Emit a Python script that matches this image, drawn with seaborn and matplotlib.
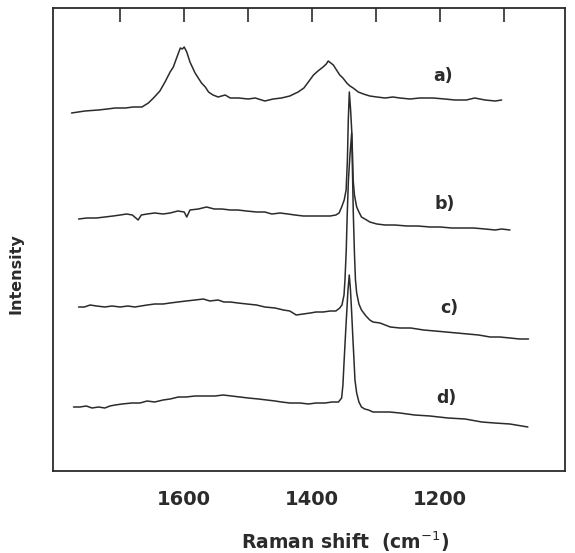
import numpy as np
import pandas as pd
import matplotlib
matplotlib.use("Agg")
import matplotlib.pyplot as plt
import seaborn as sns

# ---- data (Raman shift in cm-1, intensity in arbitrary units) ----
shift_a = [1776, 1755, 1734, 1720, 1708, 1692, 1680, 1666, 1656, 1648, 1638, 1630, 1622, 1617, 1609,
           1606, 1603, 1600, 1596, 1591, 1583, 1578, 1573, 1567, 1562, 1555, 1547, 1536, 1528, 1515,
           1500, 1489, 1474, 1461, 1448, 1435, 1422, 1413, 1406, 1398, 1391, 1383, 1378, 1375, 1371,
           1367, 1362, 1357, 1352, 1346, 1341, 1336, 1328, 1320, 1310, 1299, 1286, 1274, 1263, 1247,
           1232, 1211, 1193, 1177, 1159, 1146, 1130, 1114, 1104]
int_a = [355, 357, 358, 359, 360, 360, 361, 361, 365, 370, 377, 386, 396, 401, 415,
         420, 419, 421, 416, 406, 395, 390, 385, 381, 376, 373, 371, 373, 370, 370,
         369, 370, 367, 369, 370, 372, 376, 380, 386, 393, 397, 401, 404, 407, 405,
         403, 398, 393, 390, 385, 382, 380, 376, 374, 372, 371, 370, 371, 370, 369,
         370, 370, 369, 368, 368, 370, 368, 367, 368]

shift_b = [1765, 1752, 1737, 1724, 1711, 1700, 1690, 1681, 1672, 1667, 1658, 1646, 1633, 1622, 1610,
           1600, 1596, 1591, 1578, 1565, 1553, 1541, 1528, 1516, 1503, 1487, 1474, 1463, 1450, 1438,
           1427, 1414, 1400, 1388, 1372, 1363, 1358, 1354, 1350, 1347, 1345, 1343.6, 1342, 1340, 1338.3,
           1337, 1336, 1334, 1330.5, 1327, 1323, 1315, 1310, 1299, 1286, 1271, 1252, 1235, 1216, 1200,
           1182, 1164, 1148, 1130, 1114, 1104, 1091]
int_b = [249, 250, 250, 251, 252, 253, 254, 253, 248, 253, 254, 255, 254, 255, 257,
         256, 251, 258, 259, 261, 259, 259, 258, 258, 257, 256, 256, 254, 255, 254,
         253, 252, 252, 252, 252, 253, 255, 261, 268, 278, 308, 348, 376, 358, 338,
         313, 288, 273, 261, 256, 251, 248, 246, 244, 243, 243, 242, 242, 241, 241,
         240, 240, 240, 239, 238, 239, 238]

shift_c = [1765, 1756, 1747, 1737, 1724, 1713, 1700, 1688, 1677, 1658, 1646, 1633, 1622, 1610, 1597,
           1583, 1570, 1560, 1547, 1538, 1528, 1516, 1502, 1487, 1474, 1458, 1445, 1435, 1425, 1414,
           1403, 1394, 1383, 1372, 1363, 1357, 1353.5, 1350.3, 1348.8, 1346.8, 1345.2, 1343.4, 1341, 1338.3, 1337.1,
           1335.8, 1333.9, 1332.4, 1330.5, 1327, 1323, 1316, 1310, 1305, 1294, 1278, 1263, 1246, 1226, 1208,
           1191, 1174, 1157, 1140, 1122, 1107, 1091, 1076, 1062]
int_c = [161, 161, 163, 162, 161, 162, 161, 162, 161, 163, 164, 164, 165, 166, 167,
         168, 169, 167, 168, 166, 166, 165, 164, 163, 161, 160, 158, 157, 153, 154,
         155, 156, 156, 157, 157, 160, 163, 173, 188, 218, 255, 288, 313, 335, 298,
         255, 213, 188, 175, 164, 158, 152, 148, 146, 145, 141, 140, 140, 138, 137,
         136, 135, 134, 133, 131, 131, 130, 129, 129]

shift_d = [1773, 1763, 1753, 1744, 1734, 1724, 1716, 1708, 1697, 1682, 1669, 1658, 1646, 1633, 1622,
           1609, 1597, 1583, 1567, 1552, 1539, 1526, 1513, 1500, 1484, 1471, 1458, 1448, 1435, 1419,
           1406, 1394, 1380, 1369, 1359, 1354, 1352, 1350.3, 1348, 1346.1, 1344.1, 1342.1, 1340.2, 1338.3, 1336.3,
           1334.7, 1333.2, 1330.5, 1327, 1323, 1318, 1312, 1305, 1292, 1279, 1263, 1240, 1216, 1188, 1161,
           1135, 1115, 1091, 1063]
int_d = [61, 61, 62, 60, 61, 60, 62, 63, 64, 65, 65, 67, 66, 68, 69,
         71, 71, 72, 72, 72, 73, 72, 71, 70, 69, 68, 67, 66, 65, 65,
         64, 65, 65, 66, 66, 70, 83, 105, 133, 155, 178, 193, 178, 155, 128,
         108, 88, 75, 66, 61, 59, 58, 56, 56, 56, 55, 53, 52, 50, 49,
         46, 45, 44, 41]

sample_labels = ["a)", "b)", "c)", "d)"]
label_shift = [1196, 1193, 1186, 1191]
label_int = [392, 264, 160, 70]

tick_positions = [1700, 1600, 1500, 1400, 1300, 1200, 1100]
tick_labels = ["", "1600", "", "1400", "", "1200", ""]

# ---- long-form table ----
frames = []
for name, xs, ys in zip(sample_labels, [shift_a, shift_b, shift_c, shift_d],
                        [int_a, int_b, int_c, int_d]):
    frames.append(pd.DataFrame({"shift": xs, "intensity": ys, "sample": name}))
df = pd.concat(frames, ignore_index=True)

sns.set_style("white")
plt.rcParams["font.family"] = ["DejaVu Sans"]

ink = "#2b2b2b"
fig = plt.figure(figsize=(5.75, 5.53), dpi=100)
ax = fig.add_axes([53 / 575, (553 - 471) / 553, 512 / 575, 463 / 553])

sns.lineplot(data=df, x="shift", y="intensity", hue="sample",
             palette=[ink] * 4, estimator=None, sort=False, legend=False,
             linewidth=1.1, ax=ax)

for lab, xs, ys in zip(sample_labels, label_shift, label_int):
    ax.text(xs, ys, lab, ha="center", va="center", fontsize=12.5,
            fontweight="bold", color=ink)

ax.set_xlim(1805, 1005)
ax.set_ylim(-3, 460)
ax.set_xticks(tick_positions)
ax.set_xticklabels(tick_labels)
ax.set_yticks([])
ax.tick_params(axis="x", direction="in", length=10, width=1.2, top=True,
               labeltop=False, pad=14, labelsize=14, colors=ink)
for t in ax.get_xticklabels():
    t.set_fontweight("bold")
for sp in ax.spines.values():
    sp.set_linewidth(1.3)
    sp.set_color(ink)
    sp.set_visible(True)

ax.set_xlabel("Raman shift  (cm$^{-1}$)", fontsize=13.5, fontweight="bold", color=ink)
ax.xaxis.set_label_coords(0.57, -0.127)
ax.xaxis.label.set_va("top")
ax.set_ylabel("Intensity", fontsize=11.5, fontweight="bold", color=ink)
ax.yaxis.set_label_coords(-0.058, 0.426)

fig.savefig("out.png", dpi=100, facecolor="white")
